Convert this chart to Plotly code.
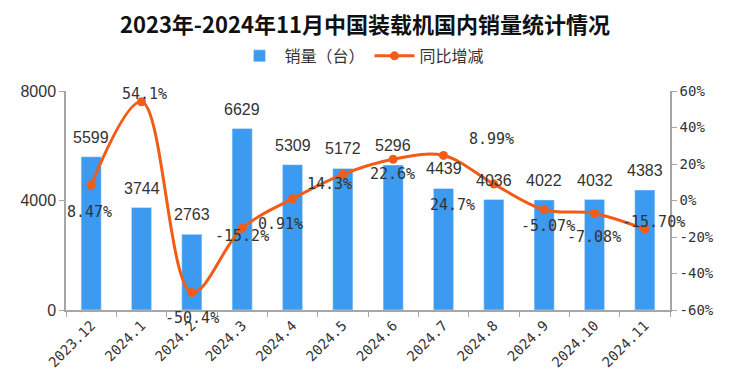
import plotly.graph_objects as go

categories = ["2023.12", "2024.1", "2024.2", "2024.3", "2024.4", "2024.5",
              "2024.6", "2024.7", "2024.8", "2024.9", "2024.10", "2024.11"]
sales = [5599, 3744, 2763, 6629, 5309, 5172, 5296, 4439, 4036, 4022, 4032, 4383]
growth = [8.47, 54.1, -50.4, -15.2, 0.91, 14.3, 22.6, 24.7, 8.99, -5.07, -7.08, -15.70]
growth_labels = ["8.47%", "54.1%", "-50.4%", "-15.2%", "0.91%", "14.3%",
                 "22.6%", "24.7%", "8.99%", "-5.07%", "-7.08%", "-15.70%"]
# label offsets (px) relative to each point
label_dx = [-2, 3, 0, 0, -12, -13, -1, 9, -2, 4, -1, 9]
label_dy = [-27, 8, -26, -8, -25, -10, -15, -50, 45, -16, -24, 7]

BAR = "#3C9AF0"
LINE = "#F25C19"
TXT = "#333333"

fig = go.Figure()
fig.add_trace(go.Bar(
    x=categories, y=sales, name="销量（台）", marker_color=BAR, width=0.4,
))
fig.add_trace(go.Scatter(
    x=categories, y=growth, name="同比增减", yaxis="y2", mode="lines+markers",
    line=dict(color=LINE, width=3, shape="spline", smoothing=1.0),
    marker=dict(color=LINE, size=9), cliponaxis=False,
))
for i, v in enumerate(sales):
    fig.add_annotation(x=i, y=v, xref="x", yref="y", text=str(v), showarrow=False,
                       yanchor="bottom", yshift=9,
                       font=dict(family="Liberation Sans, Arial", size=16, color=TXT))
for i, (g, t, dx, dy) in enumerate(zip(growth, growth_labels, label_dx, label_dy)):
    fig.add_annotation(x=i, y=g, xref="x", yref="y2", text=t, showarrow=False,
                       xshift=dx, yshift=dy,
                       font=dict(family="DejaVu Sans Mono, Liberation Mono", size=15, color=TXT))

fig.update_layout(
    width=739, height=392,
    margin=dict(l=58, r=77, t=83, b=90),
    paper_bgcolor="white", plot_bgcolor="white",
    title=dict(text="<b>2023年-2024年11月中国装载机国内销量统计情况</b>",
               x=0.483, xanchor="center", y=0.956, yanchor="middle",
               font=dict(family="Noto Sans CJK SC", size=22, color="#111111")),
    legend=dict(orientation="h", x=0.49, xanchor="center", y=1.16, yanchor="middle",
                font=dict(family="Noto Sans CJK SC", size=16, color=TXT),
                itemwidth=40),
    showlegend=True,
    xaxis=dict(type="category", range=[-0.5, 11.5], autorange=False, showline=True,
               linecolor="#A6A6A6", linewidth=1.5,
               ticks="outside", tickson="boundaries", tickcolor="#A6A6A6", ticklen=5,
               tickangle=-45, tickfont=dict(family="DejaVu Sans Mono", size=14, color=TXT),
               showgrid=False, automargin=False),
    yaxis=dict(range=[0, 8000], tickvals=[0, 4000, 8000], showline=True,
               linecolor="#A6A6A6", linewidth=1.5, ticks="outside", tickcolor="#A6A6A6",
               ticklen=5, showgrid=False, zeroline=False, automargin=False,
               tickfont=dict(family="Liberation Sans", size=16, color=TXT)),
    yaxis2=dict(range=[-60, 60], tickvals=[-60, -40, -20, 0, 20, 40, 60],
                ticktext=["-60%", "-40%", "-20%", "0%", "20%", "40%", "60%"],
                overlaying="y", side="right", showline=True, linecolor="#A6A6A6",
                linewidth=1.5, ticks="outside", tickcolor="#A6A6A6", ticklen=5,
                showgrid=False, zeroline=False, automargin=False,
                tickfont=dict(family="DejaVu Sans Mono", size=14, color=TXT)),
)

fig.write_html("out.html")
